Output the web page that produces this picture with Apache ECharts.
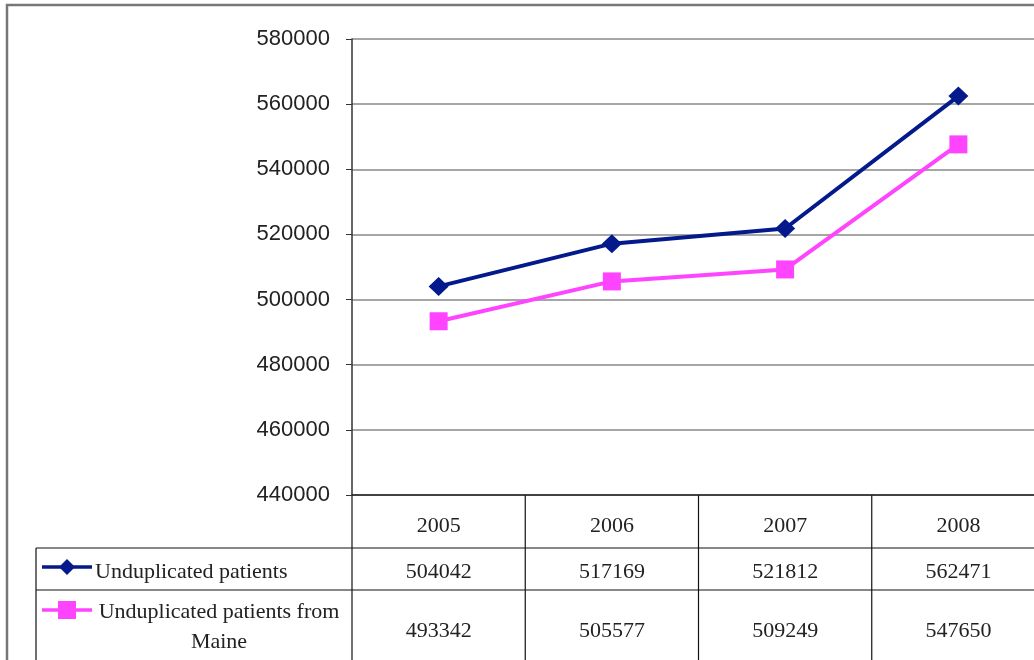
<!DOCTYPE html>
<html><head><meta charset="utf-8">
<script src="https://cdn.jsdelivr.net/npm/echarts@6/dist/echarts.min.js"></script>
<style>html,body{margin:0;padding:0;background:#fff;overflow:hidden;width:1034px;height:660px}#c{width:1045px;height:660px}</style>
</head><body><div id="c"></div>
<script>
const categories = ['2005', '2006', '2007', '2008'];
const seriesNames = ['Unduplicated patients', 'Unduplicated patients from\nMaine'];
const unduplicated = [504042, 517169, 521812, 562471];
const fromMaine = [493342, 505577, 509249, 547650];
const yTicks = { min: 440000, max: 580000, interval: 20000 };

const colors = ['#03198c', '#ff44ff'];
const G = { left: 352, top: 39, right: 0, bottom: 165 };
const chart = echarts.init(document.getElementById('c'));

chart.setOption({
  animation: false,
  backgroundColor: '#fff',
  grid: { left: G.left, top: G.top, right: G.right, bottom: G.bottom, containLabel: false },
  xAxis: {
    type: 'category', data: categories, boundaryGap: true,
    axisLine: { show: true, lineStyle: { color: '#222', width: 1.5 } },
    axisTick: { show: false },
    axisLabel: { fontFamily: 'Liberation Serif', fontSize: 22, color: '#222', margin: 20 }
  },
  yAxis: {
    type: 'value', min: yTicks.min, max: yTicks.max, interval: yTicks.interval,
    axisLine: { show: true, lineStyle: { color: '#333', width: 1.5 } },
    axisTick: { show: true, length: 6, lineStyle: { color: '#333' } },
    splitLine: { show: true, lineStyle: { color: '#888', width: 1.5 } },
    axisLabel: { fontFamily: 'Liberation Sans', fontSize: 22, color: '#222', margin: 22,
      padding: [5, 0, 0, 0], formatter: v => String(v) }
  },
  series: [
    { name: seriesNames[0], type: 'line', data: unduplicated, symbol: 'diamond', symbolSize: [20, 19],
      lineStyle: { color: colors[0], width: 4 }, itemStyle: { color: colors[0] } },
    { name: seriesNames[1], type: 'line', data: fromMaine, symbol: 'rect', symbolSize: 18,
      lineStyle: { color: colors[1], width: 4 }, itemStyle: { color: colors[1] } }
  ]
});

// Data table below the plot
const H = 660;
const x0 = chart.convertToPixel({ xAxisIndex: 0 }, categories[0]);
const x1 = chart.convertToPixel({ xAxisIndex: 0 }, categories[1]);
const band = x1 - x0;
const gridRightX = chart.getWidth() - G.right;
const axisY = H - G.bottom;
const row1Top = axisY + 53, row2Top = row1Top + 42, tableLeft = 36;
const lineColor = '#111';
const els = [];
els.push({ type: 'rect', shape: { x: 7, y: 5, width: 1200, height: 800 }, style: { fill: 'none', stroke: '#777', lineWidth: 2.5 }, z: 10 });
[row1Top, row2Top].forEach(y => els.push({ type: 'line', shape: { x1: tableLeft, y1: y, x2: gridRightX, y2: y }, style: { stroke: lineColor, lineWidth: 1.2 } }));
els.push({ type: 'line', shape: { x1: tableLeft, y1: row1Top, x2: tableLeft, y2: H + 10 }, style: { stroke: lineColor, lineWidth: 1.2 } });
for (let i = 0; i <= categories.length; i++) {
  const x = x0 - band / 2 + i * band;
  els.push({ type: 'line', shape: { x1: x, y1: axisY, x2: x, y2: H + 10 }, style: { stroke: lineColor, lineWidth: 1.2 } });
}
// legend keys
const r1c = row1Top + 19, r2c = row2Top + 20;
els.push({ type: 'line', shape: { x1: 42, y1: r1c, x2: 92, y2: r1c }, style: { stroke: colors[0], lineWidth: 3.5 } });
els.push({ type: 'polygon', shape: { points: [[67, r1c - 8], [75, r1c], [67, r1c + 8], [59, r1c]] }, style: { fill: colors[0] } });
els.push({ type: 'line', shape: { x1: 42, y1: r2c, x2: 92, y2: r2c }, style: { stroke: colors[1], lineWidth: 3.5 } });
els.push({ type: 'rect', shape: { x: 58, y: r2c - 9, width: 18, height: 18 }, style: { fill: colors[1] } });
const font = { fontFamily: 'Liberation Serif', fontSize: 22, fill: '#222' };
els.push({ type: 'text', x: 95, y: r1c + 5, style: Object.assign({ text: seriesNames[0], align: 'left', verticalAlign: 'middle' }, font) });
els.push({ type: 'text', x: 219, y: row2Top + 37, style: Object.assign({ text: seriesNames[1], align: 'center', verticalAlign: 'middle', lineHeight: 30 }, font) });
const vals = [unduplicated, fromMaine];
const rowYs = [r1c + 5, row2Top + 41];
vals.forEach((arr, r) => arr.forEach((v, i) => {
  els.push({ type: 'text', x: x0 + i * band, y: rowYs[r], style: Object.assign({ text: String(v), align: 'center', verticalAlign: 'middle' }, font) });
}));
chart.setOption({ graphic: { elements: els } });
</script></body></html>
